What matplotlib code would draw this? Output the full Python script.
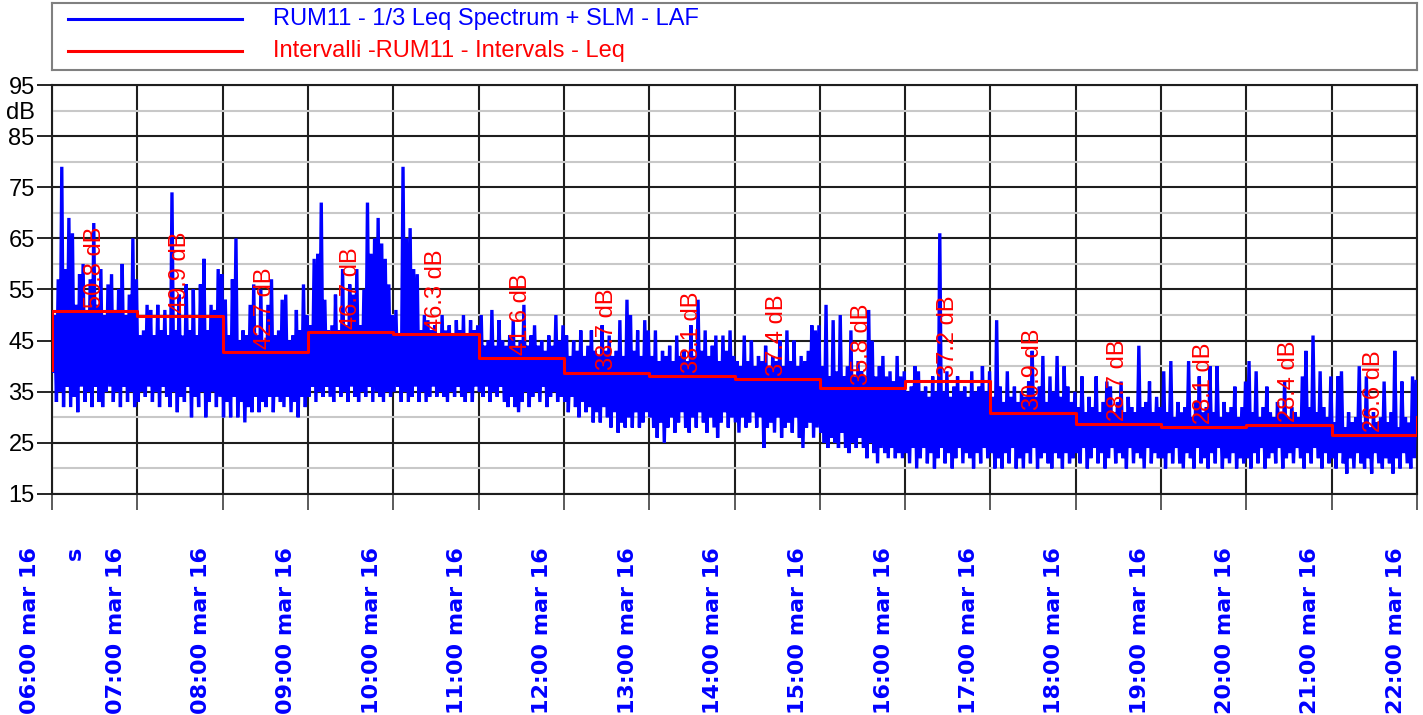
import numpy as np
import matplotlib.pyplot as plt
from matplotlib.transforms import offset_copy

plt.rcParams['font.family'] = ['Liberation Sans', 'DejaVu Sans']

W, H, DPI = 1423, 715, 100

label_laf = 'RUM11 - 1/3 Leq Spectrum + SLM - LAF'
label_int = 'Intervalli -RUM11 - Intervals - Leq'

hours = list(range(6, 22))
interval_leq = [50.8, 49.9, 42.7, 46.7, 46.3, 41.6, 38.7, 38.1,
                37.4, 35.8, 37.2, 30.9, 28.7, 28.1, 28.4, 26.6]
step_start = 39.3
step_end = 30.1

# LAF trace read as 24 bins (2.5 min) per hour: peak and dip of each bin
hi_06 = [50, 57, 79, 59, 69, 66, 52, 58, 60, 51, 57, 68, 52, 59, 50, 56, 58, 51, 55, 60, 50, 54, 65, 57]
lo_06 = [39, 33, 35, 32, 36, 32, 34, 31, 36, 33, 35, 32, 36, 33, 32, 35, 36, 33, 35, 32, 36, 33, 35, 32]
hi_07 = [46, 47, 52, 51, 46, 52, 47, 51, 46, 74, 47, 54, 46, 56, 47, 55, 46, 56, 61, 47, 52, 51, 59, 58]
lo_07 = [33, 35, 34, 36, 33, 35, 32, 36, 34, 32, 35, 31, 34, 33, 36, 30, 34, 32, 35, 30, 33, 35, 32, 34]
hi_08 = [53, 46, 57, 65, 45, 47, 46, 52, 56, 46, 55, 45, 52, 57, 46, 47, 53, 54, 45, 46, 51, 47, 56, 50]
lo_08 = [30, 33, 30, 34, 30, 33, 29, 32, 31, 34, 31, 33, 32, 34, 31, 34, 33, 32, 34, 31, 33, 30, 34, 32]
hi_09 = [48, 61, 62, 72, 53, 47, 48, 54, 47, 59, 48, 56, 54, 59, 48, 55, 72, 62, 65, 69, 64, 61, 56, 50]
lo_09 = [34, 36, 33, 35, 34, 36, 34, 33, 36, 34, 35, 33, 36, 34, 33, 35, 34, 36, 33, 35, 34, 33, 35, 34]
hi_10 = [51, 46, 79, 65, 67, 59, 58, 47, 50, 49, 47, 48, 46, 50, 47, 48, 46, 49, 47, 50, 46, 49, 47, 48]
lo_10 = [35, 36, 33, 35, 33, 34, 36, 33, 35, 33, 34, 36, 34, 35, 34, 33, 35, 34, 36, 34, 33, 35, 33, 36]
hi_11 = [50, 44, 45, 51, 44, 49, 45, 44, 46, 49, 44, 45, 52, 44, 46, 48, 44, 45, 43, 46, 44, 50, 45, 48]
lo_11 = [35, 34, 36, 33, 35, 34, 36, 33, 32, 34, 32, 31, 33, 35, 32, 34, 35, 33, 36, 32, 34, 35, 33, 34]
hi_12 = [46, 42, 45, 43, 47, 42, 44, 47, 43, 42, 48, 43, 46, 42, 43, 49, 42, 53, 50, 43, 47, 42, 49, 47]
lo_12 = [33, 31, 34, 32, 30, 33, 31, 32, 29, 31, 29, 32, 30, 28, 31, 27, 29, 28, 30, 28, 31, 28, 29, 31]
hi_13 = [42, 47, 41, 43, 42, 44, 41, 46, 42, 43, 41, 48, 42, 53, 43, 47, 42, 44, 46, 41, 46, 43, 47, 42]
lo_13 = [30, 28, 26, 29, 25, 28, 30, 27, 29, 31, 28, 27, 30, 28, 31, 29, 27, 30, 28, 26, 29, 31, 28, 30]
hi_14 = [41, 40, 46, 41, 45, 40, 42, 41, 44, 40, 42, 41, 45, 40, 47, 41, 45, 40, 42, 41, 43, 48, 47, 48]
lo_14 = [29, 27, 30, 28, 29, 31, 28, 30, 24, 28, 29, 27, 30, 26, 28, 29, 27, 30, 26, 24, 28, 29, 26, 28]
hi_15 = [40, 52, 38, 49, 39, 50, 38, 40, 47, 38, 41, 39, 38, 51, 45, 38, 40, 42, 38, 39, 37, 42, 38, 39]
lo_15 = [27, 25, 24, 26, 25, 24, 27, 24, 23, 25, 24, 26, 24, 22, 25, 23, 21, 24, 23, 22, 24, 22, 23, 22]
hi_16 = [35, 36, 40, 39, 35, 36, 34, 38, 35, 66, 35, 39, 34, 36, 38, 35, 36, 34, 39, 35, 36, 40, 35, 39]
lo_16 = [23, 21, 24, 20, 22, 24, 21, 23, 20, 22, 24, 21, 23, 20, 22, 24, 21, 23, 22, 20, 23, 21, 24, 22]
hi_17 = [34, 49, 36, 33, 39, 34, 36, 33, 35, 34, 37, 43, 34, 36, 42, 33, 38, 35, 42, 34, 40, 36, 33, 35]
lo_17 = [23, 20, 22, 20, 23, 21, 24, 20, 22, 20, 23, 21, 24, 20, 22, 23, 21, 20, 23, 22, 20, 23, 21, 22]
hi_18 = [32, 38, 31, 34, 32, 38, 31, 33, 37, 36, 31, 33, 37, 31, 34, 32, 31, 44, 32, 33, 37, 31, 34, 32]
lo_18 = [23, 21, 24, 20, 22, 24, 21, 23, 20, 22, 24, 21, 23, 22, 20, 24, 21, 23, 22, 20, 24, 21, 23, 22]
hi_19 = [39, 31, 41, 30, 33, 31, 32, 41, 30, 33, 38, 31, 32, 40, 31, 40, 30, 33, 31, 32, 36, 30, 32, 37]
lo_19 = [22, 20, 23, 21, 24, 21, 20, 23, 22, 20, 24, 21, 22, 20, 23, 21, 24, 20, 22, 21, 23, 20, 22, 21]
hi_20 = [41, 31, 39, 30, 32, 36, 31, 30, 33, 31, 37, 30, 32, 31, 30, 38, 43, 32, 46, 31, 39, 32, 30, 38]
lo_20 = [22, 20, 23, 21, 24, 20, 22, 23, 21, 24, 20, 22, 23, 21, 24, 22, 20, 23, 21, 24, 22, 20, 23, 21]
hi_21 = [29, 38, 39, 28, 31, 29, 30, 40, 29, 38, 28, 31, 29, 30, 37, 29, 31, 43, 28, 37, 30, 29, 38, 37]
lo_21 = [22, 20, 23, 21, 19, 22, 20, 23, 21, 20, 22, 19, 23, 21, 20, 22, 21, 19, 22, 20, 23, 21, 20, 22]

laf_hi = [hi_06, hi_07, hi_08, hi_09, hi_10, hi_11, hi_12, hi_13,
          hi_14, hi_15, hi_16, hi_17, hi_18, hi_19, hi_20, hi_21]
laf_lo = [lo_06, lo_07, lo_08, lo_09, lo_10, lo_11, lo_12, lo_13,
          lo_14, lo_15, lo_16, lo_17, lo_18, lo_19, lo_20, lo_21]

# build the trace: dip then peak in every bin
t, v = [], []
for h, hi, lo in zip(hours, laf_hi, laf_lo):
	n = len(hi)
	for i in range(n):
		t += [h + (i + 0.25) / n, h + (i + 0.75) / n]
		v += [lo[i], hi[i]]

edges = hours + [22]
step_x = np.repeat(edges, 2)
step_y = [step_start] + list(np.repeat(interval_leq, 2)) + [step_end]

fig = plt.figure(figsize=(W / DPI, H / DPI), dpi=DPI)
ax = fig.add_axes([52 / W, 221 / H, 1365 / W, 409 / H])

ax.plot(t, v, color='#0000ff', lw=2.4, zorder=3, solid_joinstyle='miter')
ax.plot(step_x, step_y, color='#ff0000', lw=2.2, zorder=5)

for h, leq in zip(hours, interval_leq):
	ax.text(h + 0.5, leq + 0.6, f'{leq:.1f} dB', rotation=90, ha='center', va='bottom',
			color='#ff0000', fontsize=17, zorder=4)

ax.set_xlim(6, 22)
ax.set_ylim(15, 95)
ax.set_xticks(edges)
ax.set_xticklabels([])
ax.set_yticks(range(15, 96, 10))
ax.set_yticks(range(20, 91, 10), minor=True)
ax.set_yticklabels([''] * 7 + ['dB'], minor=True)
ax.tick_params(axis='x', which='major', length=11.5, width=1.2, color='#404040')
ax.tick_params(axis='y', which='major', length=11, width=1.2, pad=1.5, labelsize=17)
ax.tick_params(axis='y', which='minor', length=0, pad=12.5, labelsize=17)
ax.set_axisbelow(True)
ax.grid(which='major', color='#1e1e1e', lw=1.5)
ax.grid(which='minor', axis='y', color='#c8c8c8', lw=1.5)
for s in ax.spines.values():
	s.set_linewidth(1.5)
	s.set_color('#1e1e1e')

# time labels under the axis, shifted left of each tick
lab_tr = offset_copy(ax.get_xaxis_transform(), fig=fig, x=-21.5, y=-53, units='dots')
for h in edges:
	ax.text(h, 0, f'{h:02d}:00 mar 16', transform=lab_tr, rotation=90, ha='center', va='top',
			color='#0000ff', fontsize=16, fontweight='bold', family='DejaVu Sans')
unit_tr = offset_copy(ax.transAxes, fig=fig, x=23, y=-53, units='dots')
ax.text(0, 0, 's', transform=unit_tr, rotation=90, ha='center', va='top',
		color='#0000ff', fontsize=16, fontweight='bold', family='DejaVu Sans')

# legend box above the plot
lg = fig.add_axes([52 / W, (H - 70) / H, 1365 / W, 67 / H])
lg.set_xlim(0, 1365)
lg.set_ylim(67, 0)
lg.set_xticks([])
lg.set_yticks([])
for s in lg.spines.values():
	s.set_color('#808080')
	s.set_linewidth(1.5)
lg.plot([16, 190], [16, 16], color='#0000ff', lw=2.2)
lg.plot([16, 190], [48, 48], color='#ff0000', lw=2.2)
lg.text(221, 16, label_laf, color='#0000ff', fontsize=17, va='center')
lg.text(221, 48, label_int, color='#ff0000', fontsize=17, va='center')

fig.savefig('out.png', dpi=DPI)
